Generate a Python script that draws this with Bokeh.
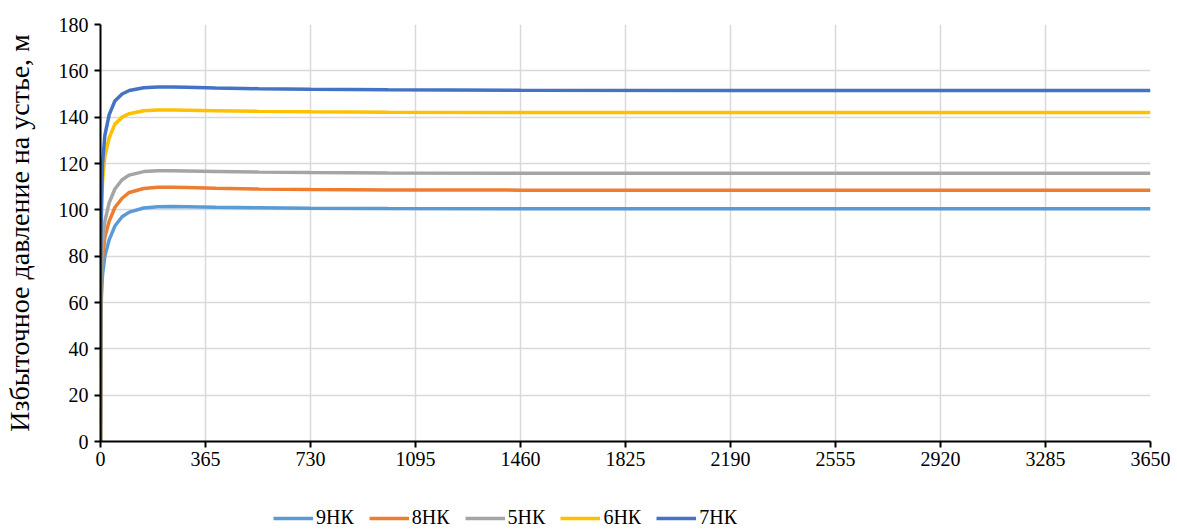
from bokeh.plotting import figure
from bokeh.models import Range1d, FixedTicker, Legend, LegendItem
from bokeh.layouts import column
from bokeh.embed import file_html
from bokeh.resources import INLINE

# Days
t = [0, 1, 3, 7, 15, 30, 50, 75, 100, 150, 200, 250, 300, 400, 550, 730, 1000, 1460, 2190, 3650]

s_9NK = [0, 45, 62, 72, 80, 87, 93, 97, 99, 100.8, 101.3, 101.4, 101.3, 101.1, 100.9, 100.7, 100.6, 100.5, 100.5, 100.5]
s_8NK = [0, 50, 68, 79, 88, 95, 101, 105, 107.5, 109.2, 109.7, 109.7, 109.6, 109.3, 109.0, 108.8, 108.6, 108.5, 108.5, 108.5]
s_5NK = [0, 55, 74, 86, 95, 103, 109, 113, 115, 116.5, 116.9, 116.9, 116.8, 116.6, 116.3, 116.1, 115.9, 115.8, 115.8, 115.8]
s_6NK = [0, 70, 95, 112, 123, 131, 137, 140, 141.5, 142.8, 143.1, 143.1, 143.0, 142.8, 142.5, 142.3, 142.1, 142.0, 142.0, 142.0]
s_7NK = [0, 75, 102, 120, 132, 141, 147, 150, 151.5, 152.7, 153.0, 153.0, 152.9, 152.6, 152.3, 152.0, 151.8, 151.6, 151.5, 151.5]

names = ["9НК", "8НК", "5НК", "6НК", "7НК"]
series = [s_9NK, s_8NK, s_5NK, s_6NK, s_7NK]
colors = ["#5b9bd5", "#ed7d31", "#a5a5a5", "#ffc000", "#4472c4"]

x_ticks = [0, 365, 730, 1095, 1460, 1825, 2190, 2555, 2920, 3285, 3650]
y_ticks = [0, 20, 40, 60, 80, 100, 120, 140, 160, 180]

FONT = "Liberation Serif"

p = figure(frame_width=1050, frame_height=417, output_backend="svg",
           toolbar_location=None,
           x_range=Range1d(0, 3650), y_range=Range1d(0, 180),
           min_border_left=100, min_border_top=24, min_border_right=27, min_border_bottom=57)
p.outline_line_color = None
p.background_fill_color = "white"
p.border_fill_color = "white"

for ax in (p.xaxis[0], p.yaxis[0]):
    ax.axis_line_color = "black"
    ax.axis_line_width = 2
    ax.major_tick_line_color = "black"
    ax.major_tick_line_width = 2
    ax.major_tick_out = 6
    ax.major_tick_in = 0
    ax.minor_tick_line_color = None
    ax.major_label_text_font = FONT
    ax.major_label_text_font_size = "20px"
    ax.major_label_text_color = "black"

p.xaxis.ticker = FixedTicker(ticks=x_ticks)
p.yaxis.ticker = FixedTicker(ticks=y_ticks)
p.xaxis.major_label_standoff = 4
p.yaxis.major_label_standoff = 6

p.yaxis.axis_label = "Избыточное давление на устье, м"
p.yaxis.axis_label_text_font = FONT
p.yaxis.axis_label_text_font_size = "28px"
p.yaxis.axis_label_text_font_style = "normal"
p.yaxis.axis_label_text_color = "black"
p.yaxis.axis_label_standoff = 21

p.xgrid.ticker = FixedTicker(ticks=x_ticks)
p.ygrid.ticker = FixedTicker(ticks=y_ticks)
p.grid.grid_line_color = "#d9d9d9"
p.grid.grid_line_width = 1.5

for ys, c in zip(series, colors):
    p.line(t, ys, line_color=c, line_width=3.5)

# Legend strip below the chart
p2 = figure(width=1177, height=31, output_backend="svg", toolbar_location=None,
            x_axis_location=None, y_axis_location=None,
            x_range=Range1d(0, 3650), y_range=Range1d(-20, -10),
            min_border=0)
p2.outline_line_color = None
p2.grid.visible = False
p2.background_fill_color = "white"
p2.border_fill_color = "white"

items = []
for name, ys, c in zip(names, series, colors):
    r = p2.line(t, ys, line_color=c, line_width=3.5)
    items.append(LegendItem(label=name, renderers=[r]))

legend = Legend(items=items, orientation="horizontal", location=(173, 0),
                glyph_width=40, glyph_height=20, label_standoff=3, spacing=15,
                label_text_font=FONT, label_text_font_size="20px",
                label_text_color="black", border_line_color=None,
                background_fill_alpha=0, padding=0, margin=0)
p2.add_layout(legend, "center")

layout = column(p, p2, spacing=0)
open("out.html", "w").write(file_html(layout, INLINE))
